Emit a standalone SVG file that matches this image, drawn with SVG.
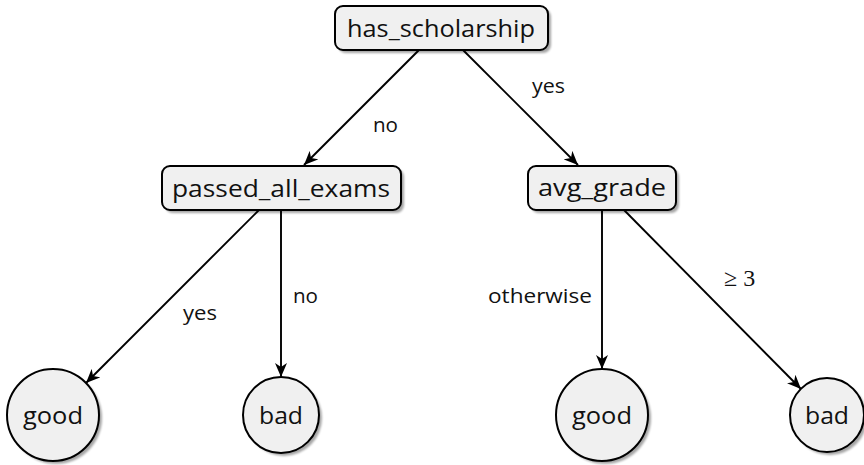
<svg xmlns="http://www.w3.org/2000/svg" width="864" height="465" viewBox="0 0 864 465">
<style>
.box{fill:#f0f0f0;stroke:#000;stroke-width:2}
.sh{fill:#000;opacity:0.35;filter:url(#blur)}
.t{font-family:"Open Sans","DejaVu Sans",sans-serif;font-size:24px;fill:#111;text-anchor:middle}
.lbl{font-family:"Open Sans","DejaVu Sans",sans-serif;font-size:20px;fill:#111}
.math{font-family:"Liberation Serif","DejaVu Serif",serif;font-size:24px;fill:#111}
.edge{stroke:#000;stroke-width:1.9;fill:none;marker-end:url(#arr)}
</style>
<defs>
<filter id="blur" x="-20%" y="-20%" width="140%" height="140%"><feGaussianBlur stdDeviation="1.2"/></filter>
<marker id="arr" markerUnits="userSpaceOnUse" markerWidth="16" markerHeight="14" refX="14" refY="7" orient="auto">
<path d="M0,1 L14,7 L0,13 L4,7 z" fill="#000"/>
</marker>
</defs>
<rect width="864" height="465" fill="#fff"/>
<g id="connectors">
<line class="edge" x1="419" y1="50" x2="304" y2="165"/>
<line class="edge" x1="463" y1="50" x2="578" y2="165"/>
<line class="edge" x1="259" y1="210" x2="86" y2="383"/>
<line class="edge" x1="281" y1="210" x2="281" y2="377"/>
<line class="edge" x1="602" y1="210" x2="602" y2="369"/>
<line class="edge" x1="624" y1="210" x2="801" y2="389"/>
<text class="lbl" x="373" y="132" textLength="25" lengthAdjust="spacingAndGlyphs">no</text>
<text class="lbl" x="532" y="93" textLength="33" lengthAdjust="spacingAndGlyphs">yes</text>
<text class="lbl" x="183" y="320" textLength="34" lengthAdjust="spacingAndGlyphs">yes</text>
<text class="lbl" x="293" y="303" textLength="25" lengthAdjust="spacingAndGlyphs">no</text>
<text class="lbl" x="488" y="303" textLength="104" lengthAdjust="spacingAndGlyphs">otherwise</text>
<text class="math" x="724" y="286">≥ 3</text>
</g>
<g id="root">
<rect class="sh" x="338" y="9" width="213" height="44" rx="8"/>
<rect class="box" x="335" y="6" width="213" height="44" rx="8"/>
<text class="t" x="441" y="37" textLength="188" lengthAdjust="spacingAndGlyphs">has_scholarship</text>
</g>
<g id="passed">
<rect class="sh" x="165" y="169" width="239" height="44" rx="8"/>
<rect class="box" x="162" y="166" width="239" height="44" rx="8"/>
<text class="t" x="281" y="197" textLength="218" lengthAdjust="spacingAndGlyphs">passed_all_exams</text>
</g>
<g id="avg">
<rect class="sh" x="531" y="169" width="148" height="44" rx="8"/>
<rect class="box" x="528" y="166" width="148" height="44" rx="8"/>
<text class="t" x="602" y="196" textLength="128" lengthAdjust="spacingAndGlyphs">avg_grade</text>
</g>
<g id="good1">
<circle class="sh" cx="56" cy="418" r="46"/>
<circle class="box" cx="53" cy="415" r="46"/>
<text class="t" x="53" y="424" textLength="60" lengthAdjust="spacingAndGlyphs">good</text>
</g>
<g id="bad1">
<circle class="sh" cx="284" cy="418" r="38"/>
<circle class="box" cx="281" cy="415" r="38"/>
<text class="t" x="281" y="424" textLength="44" lengthAdjust="spacingAndGlyphs">bad</text>
</g>
<g id="good2">
<circle class="sh" cx="605" cy="418" r="46"/>
<circle class="box" cx="602" cy="415" r="46"/>
<text class="t" x="602" y="424" textLength="60" lengthAdjust="spacingAndGlyphs">good</text>
</g>
<g id="bad2">
<circle class="sh" cx="830" cy="418" r="37"/>
<circle class="box" cx="827" cy="415" r="37"/>
<text class="t" x="827" y="424" textLength="44" lengthAdjust="spacingAndGlyphs">bad</text>
</g>
</svg>
